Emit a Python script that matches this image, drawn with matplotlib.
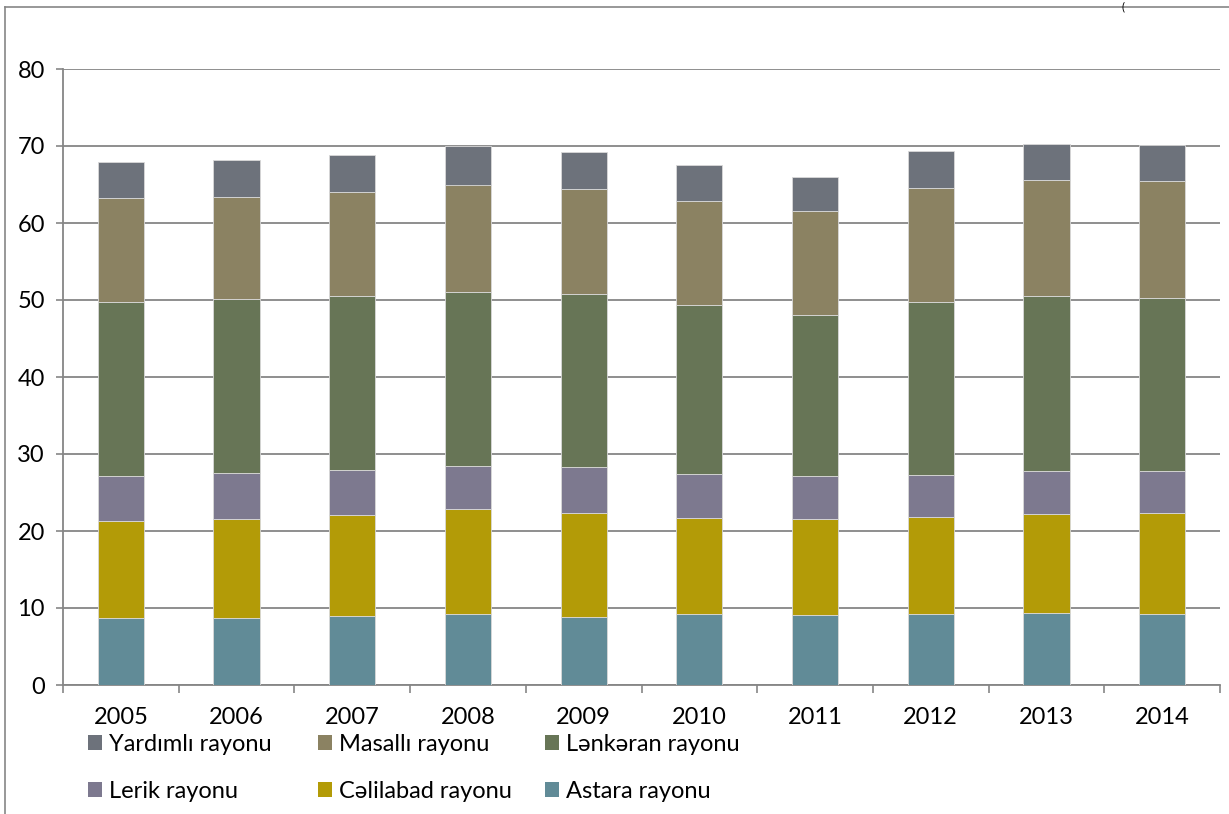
import matplotlib

matplotlib.use("Agg")
import matplotlib.pyplot as plt
import numpy as np
from matplotlib.lines import Line2D
from matplotlib.patches import Patch

plt.rcParams["font.family"] = ["Lato", "DejaVu Sans"]

years = ["2005", "2006", "2007", "2008", "2009", "2010", "2011", "2012", "2013", "2014"]

# stacked from bottom to top
astara = [8.7, 8.7, 8.9, 9.2, 8.8, 9.2, 9.1, 9.2, 9.4, 9.2]
celilabad = [12.6, 12.9, 13.2, 13.6, 13.6, 12.5, 12.4, 12.6, 12.8, 13.1]
lerik = [5.9, 5.9, 5.8, 5.7, 5.9, 5.7, 5.6, 5.5, 5.6, 5.5]
lenkeran = [22.6, 22.6, 22.6, 22.5, 22.5, 21.9, 20.9, 22.5, 22.7, 22.5]
masalli = [13.5, 13.3, 13.5, 14.0, 13.6, 13.5, 13.5, 14.8, 15.1, 15.1]
yardimli = [4.6, 4.8, 4.8, 5.0, 4.8, 4.7, 4.5, 4.7, 4.7, 4.7]

series = [
    ("Astara rayonu", astara, "#618B97"),
    ("Cəlilabad rayonu", celilabad, "#B39B07"),
    ("Lerik rayonu", lerik, "#7D798F"),
    ("Lənkəran rayonu", lenkeran, "#677556"),
    ("Masallı rayonu", masalli, "#8B8262"),
    ("Yardımlı rayonu", yardimli, "#6D727B"),
]

GRID = "#868686"
FS = 17

fig = plt.figure(figsize=(12.29, 8.14), dpi=100)
ax = fig.add_axes([63 / 1229, 1 - 685 / 814, (1220 - 63) / 1229, (685 - 69) / 814])

x = np.arange(len(years))
bottom = np.zeros(len(years))
handles = {}
for name, vals, color in series:
    vals = np.array(vals)
    ax.bar(x, vals, width=0.4, bottom=bottom, color=color,
           edgecolor="#d9d9d9", linewidth=0.6, zorder=3)
    handles[name] = Patch(facecolor=color, edgecolor="none")
    bottom += vals

ax.set_xlim(-0.5, len(years) - 0.5)
ax.set_ylim(0, 80)
ax.set_yticks(np.arange(0, 81, 10))
ax.yaxis.grid(True, color=GRID, linewidth=1.3, zorder=0)
ax.set_axisbelow(True)

ax.set_xticks(np.arange(-0.5, len(years), 1.0))
ax.set_xticklabels([])
ax.set_xticks(x, minor=True)
ax.set_xticklabels(years, minor=True)
ax.tick_params(axis="x", which="major", length=6, width=1.2, color=GRID, direction="out")
ax.tick_params(axis="x", which="minor", length=0, pad=16, labelsize=FS)
ax.tick_params(axis="y", length=5, width=1.2, color=GRID, direction="out", pad=8, labelsize=FS)

for side in ["top", "right"]:
    ax.spines[side].set_visible(False)
for side in ["left", "bottom"]:
    ax.spines[side].set_color(GRID)
    ax.spines[side].set_linewidth(1.3)

# legend, one column at a time so the columns sit where the original has them
columns = [
    (["Yardımlı rayonu", "Lerik rayonu"], 88),
    (["Masallı rayonu", "Cəlilabad rayonu"], 318),
    (["Lənkəran rayonu", "Astara rayonu"], 545),
]
for names, xpix in columns:
    fig.legend(
        [handles[n] for n in names],
        names,
        ncol=1,
        loc="center left",
        bbox_to_anchor=(xpix / 1229, 1 - 768 / 814),
        frameon=False,
        fontsize=FS,
        handlelength=0.6,
        handleheight=0.6,
        handletextpad=0.3,
        labelspacing=1.1,
        borderpad=0.0,
        borderaxespad=0.0,
    )

# outer frame of the original picture
fig.add_artist(Line2D([5 / 1229, 5 / 1229], [0, 1 - 7 / 814], transform=fig.transFigure,
                      color=GRID, linewidth=1.2))
fig.add_artist(Line2D([5 / 1229, 1], [1 - 7 / 814, 1 - 7 / 814], transform=fig.transFigure,
                      color=GRID, linewidth=1.2))
fig.text(1122 / 1229, 1 - 1 / 814, "(", fontsize=8, va="top", ha="left")

fig.savefig("out.png", dpi=100)
